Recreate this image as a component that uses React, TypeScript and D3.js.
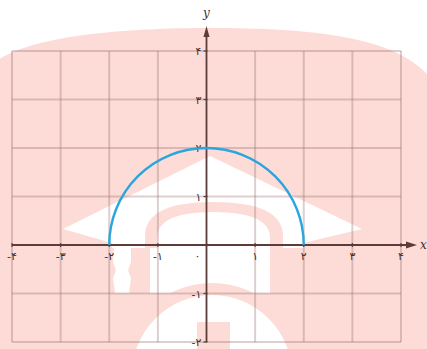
import React from "react";
import * as d3 from "d3";

const W = 427;
const H = 349;

const xTicks = [-4, -3, -2, -1, 0, 1, 2, 3, 4];
const yTicks = [-2, -1, 1, 2, 3, 4];
const xTickLabels = ["-۴", "-۳", "-۲", "-۱", "۰", "۱", "۲", "۳", "۴"];
const yTickLabels = ["-۲", "-۱", "۱", "۲", "۳", "۴"];
const circleCenter = [0, 0];
const circleRadius = [2];

export default function App() {
  const x = d3.scaleLinear().domain([-4, 4]).range([12, 401]);
  const y = d3.scaleLinear().domain([-2, 4]).range([342, 51]);
  const x0 = x(0);
  const y0 = y(0);
  const r = circleRadius[0];
  const cx = circleCenter[0];
  const cy = circleCenter[1];
  const rx = x(cx + r) - x(cx);
  const ry = y(cy) - y(cy + r);
  const arcPath = `M${x(cx - r)},${y(cy)} A${rx},${ry} 0 0 1 ${x(cx + r)},${y(cy)}`;

  const pink = "#fddcd8";
  const grid = "rgba(150,110,105,0.33)";
  const axis = "#5b3c38";
  const lab = "#3e302e";

  return (
    <svg width={W} height={H} style={{ position: "absolute", left: 0, top: 0, background: "#fff" }}>
      {/* watermark */}
      <path d="M-5,62 C30,36 120,28 210,28 C320,28 400,38 432,80 L432,349 L-5,349 Z" fill={pink} />
      <polygon points="210,156 362,229 303,243 303,248 112,248 112,243 63,229" fill="#fff" />
      <rect x={150} y={245} width={120} height={48} fill="#fff" />
      <path d="M114,246 L131,246 L131,262 L128,270 L131,278 L129,293 L115,293 L113,278 L116,270 L113,262 Z" fill="#fff" />
      <path d="M145,248 L145,236 Q145,202 213,202 Q283,202 283,236 L283,248 L270,248 L270,238 Q270,212 213,212 Q157,212 157,238 L157,248 Z" fill={pink} />
      <circle cx={212} cy={375} r={92} fill={pink} />
      <circle cx={212} cy={375} r={80} fill="#fff" />
      <rect x={197} y={322} width={33} height={30} fill={pink} />

      {/* grid */}
      {xTicks.filter((t) => t !== 0).map((t) => (
        <line key={"gx" + t} x1={x(t)} x2={x(t)} y1={y(4)} y2={y(-2)} stroke={grid} strokeWidth={2} />
      ))}
      {[-2, -1, 1, 2, 3, 4].map((t) => (
        <line key={"gy" + t} x1={x(-4)} x2={x(4)} y1={y(t)} y2={y(t)} stroke={grid} strokeWidth={2} />
      ))}

      {/* axes */}
      <line x1={x(-4)} x2={410} y1={y0} y2={y0} stroke={axis} strokeWidth={1.8} />
      <path d={`M417,${y0} L406,${y0 - 3.5} L406,${y0 + 3.5} Z`} fill={axis} />
      <line x1={x0} x2={x0} y1={y(-2)} y2={34} stroke={axis} strokeWidth={1.8} />
      <path d={`M${x0},26 L${x0 - 3},37 L${x0 + 3},37 Z`} fill={axis} />
      <text x={420} y={y0 + 4} fontFamily="DejaVu Serif" fontStyle="italic" fontSize={12} fill={lab}>x</text>
      <text x={x0} y={17} textAnchor="middle" fontFamily="DejaVu Serif" fontStyle="italic" fontSize={12} fill={lab}>y</text>

      {/* ticks */}
      {xTicks.map((t) => (
        <line key={"tx" + t} x1={x(t)} x2={x(t)} y1={y0 - 2} y2={y0 + 2} stroke={axis} strokeWidth={1.2} />
      ))}
      {yTicks.map((t) => (
        <line key={"ty" + t} x1={x0 - 3} x2={x0 + 1} y1={y(t)} y2={y(t)} stroke={axis} strokeWidth={1.2} />
      ))}
      {xTicks.map((t, i) => (
        <text
          key={"lx" + t}
          x={t === 0 ? x0 - 9 : x(t)}
          y={y0 + 15}
          textAnchor="middle"
          fontFamily="DejaVu Sans"
          fontSize={11}
          fill={lab}
          direction="ltr"
        >
          {xTickLabels[i]}
        </text>
      ))}
      {yTicks.map((t, i) => (
        <text
          key={"ly" + t}
          x={x0 - 5}
          y={y(t) + 4}
          textAnchor="end"
          fontFamily="DejaVu Sans"
          fontSize={11}
          fill={lab}
          direction="ltr"
        >
          {yTickLabels[i]}
        </text>
      ))}

      {/* semicircle */}
      <path d={arcPath} fill="none" stroke="#2aa6de" strokeWidth={2.4} />
    </svg>
  );
}
